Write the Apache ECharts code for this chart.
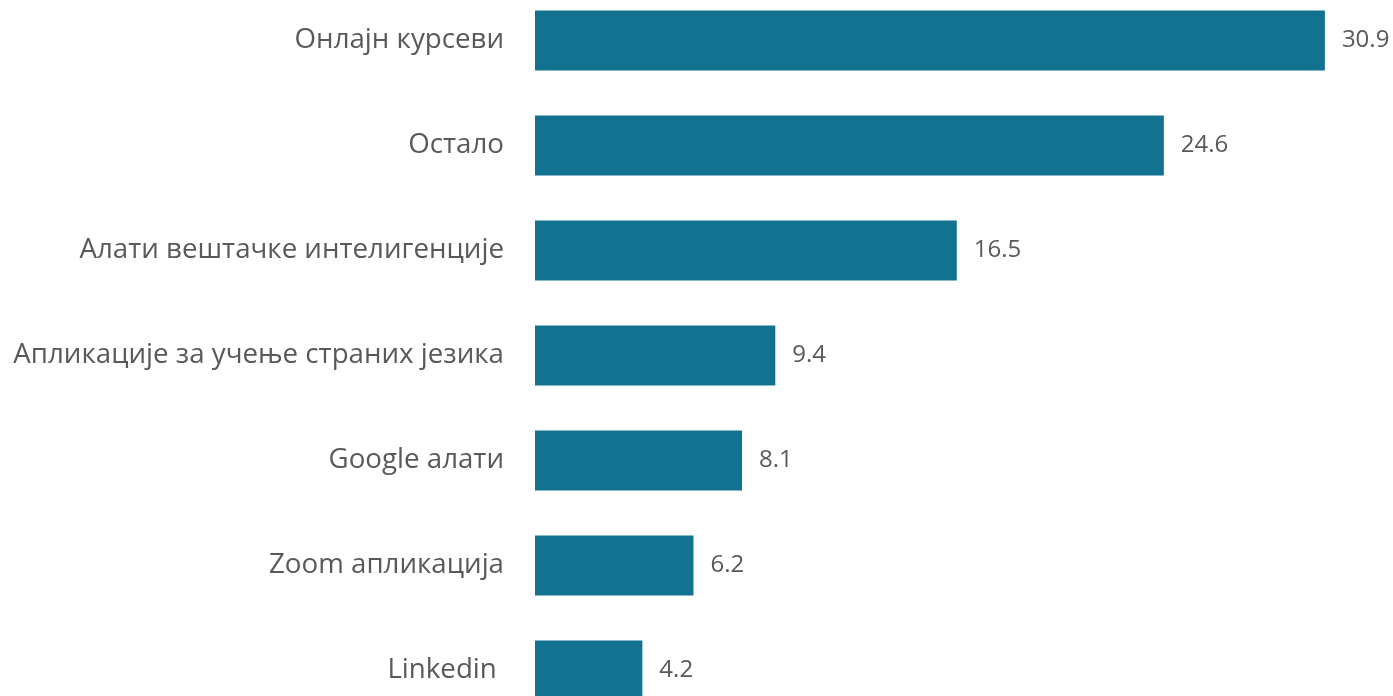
<!DOCTYPE html>
<html><head><meta charset="utf-8">
<script src="https://cdn.jsdelivr.net/npm/echarts@6/dist/echarts.min.js"></script>
<style>html,body{margin:0;padding:0;background:#fff;overflow:hidden;width:1393px;height:696px;position:relative}#c{position:absolute;left:0;top:-12px;width:1393px;height:735px}</style>
</head><body><div id="c"></div>
<script>
const categories = ["Онлајн курсеви","Остало","Алати вештачке интелигенције","Апликације за учење страних језика","Google алати","Zoom апликација","Linkedin "];
const values = [30.9,24.6,16.5,9.4,8.1,6.2,4.2];
const chart = echarts.init(document.getElementById('c'));
chart.setOption({
  animation:false,
  grid:{left:535, right:40, top:0, bottom:0, containLabel:false},
  xAxis:{type:'value', min:0, max:32, show:false},
  yAxis:{type:'category', inverse:true, data:categories,
    axisLine:{show:false}, axisTick:{show:false},
    axisLabel:{margin:31, fontFamily:'Open Sans', fontSize:27.7, color:'#595959'}},
  series:[{type:'bar', data:values, barWidth:60, itemStyle:{color:'#13728F'},
    label:{show:true, position:'right', distance:17, fontFamily:'Open Sans', fontSize:24, color:'#595959',
      formatter:p=>p.value.toFixed(1)}}]
});
</script></body></html>
